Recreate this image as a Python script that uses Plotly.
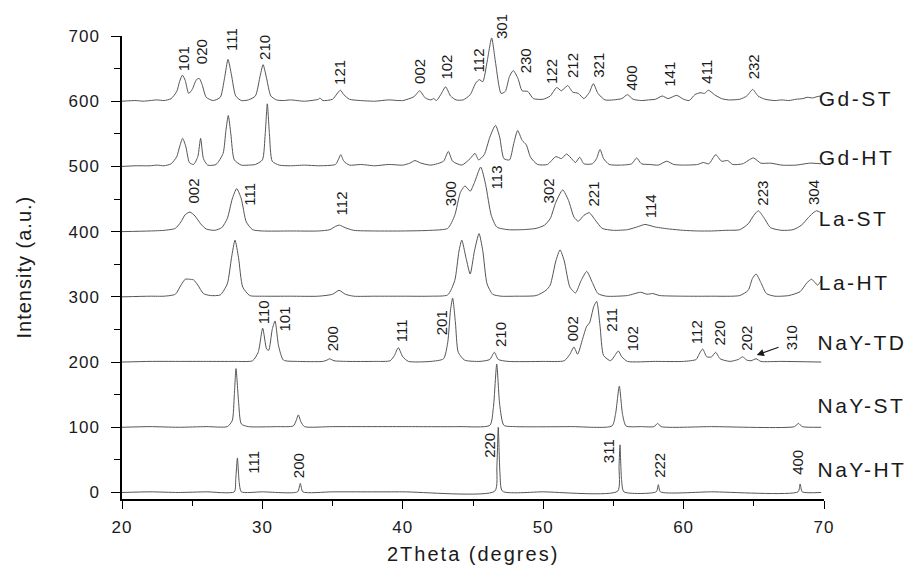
import plotly.graph_objects as go

# ---------------- data (intensity above each pattern's own baseline) ----------------
series_names = ["NaY-HT", "NaY-ST", "NaY-TD", "La-HT", "La-ST", "Gd-HT", "Gd-ST"]
series_offsets = [0, 100, 200, 300, 400, 500, 600]

nay_ht_x = [20, 22, 24, 26, 28.0, 28.1, 28.22, 28.35, 28.5, 30, 32.5, 32.7, 32.88, 35, 40, 46.55, 46.7, 46.8, 46.92, 47.1, 50,
            55.3, 55.4, 55.47, 55.58, 55.75, 58.05, 58.2, 58.35, 62, 68.15, 68.3, 68.45, 69.8]
nay_ht_y = [0, 1, 0, 1, 1, 20, 53, 15, 1, 1, 1, 14, 1, 1, 1, 2, 40, 100, 30, 2, 1,
            2, 40, 73, 20, 1, 1, 12, 1, 1, 1, 13, 1, 0]

nay_st_x = [20, 22, 24, 26, 27.5, 27.85, 28.0, 28.12, 28.3, 28.5, 29, 31, 32.2, 32.4, 32.56, 32.75, 33.0, 35, 40, 44,
            46.2, 46.45, 46.69, 46.9, 47.2, 48, 52, 54.9, 55.15, 55.42, 55.65, 55.9, 57, 57.9, 58.15, 58.4, 62,
            67.9, 68.17, 68.45, 69.8]
nay_st_y = [0, 1, 0, 1, 1, 10, 50, 90, 40, 5, 1, 1, 2, 10, 19, 8, 1, 1, 1, 1,
            3, 30, 97, 35, 3, 1, 1, 2, 20, 63, 20, 2, 1, 1, 6, 1, 1,
            1, 6, 1, 0]

nay_td_x = [20, 22, 24, 26, 28, 29.3, 29.7, 30.02, 30.3, 30.45, 30.7, 30.9, 31.15, 31.5, 32.5, 34.3, 34.6, 34.8, 35.1,
            36, 38, 39.1, 39.4, 39.68, 40.0, 40.4, 42, 42.9, 43.2, 43.4, 43.55, 43.75, 43.95, 44.4, 45.5, 46.2,
            46.52, 46.8, 47.5, 50, 51.5, 51.9, 52.19, 52.45, 52.8, 53.1, 53.3, 53.6, 53.81, 54.05, 54.3, 54.8,
            55.1, 55.35, 55.6, 56.0, 58, 60, 60.9, 61.1, 61.36, 61.65, 62.0, 62.28, 62.6, 63.3, 63.9, 64.2,
            64.5, 64.8, 65.16, 65.5, 67, 69.8]
nay_td_y = [0, 1, 1, 1, 1, 2, 15, 52, 20, 18, 50, 63, 25, 3, 1, 1, 3, 5, 2,
            1, 1, 2, 10, 22, 8, 1, 1, 5, 30, 80, 98, 60, 15, 3, 1, 4,
            15, 4, 1, 1, 2, 12, 23, 12, 35, 55, 60, 85, 93, 55, 10, 2,
            10, 17, 8, 1, 1, 1, 4, 12, 20, 8, 8, 15, 5, 1, 4, 8,
            3, 2, 5, 1, 1, 0]

la_ht_x = [20, 22, 23, 23.8, 24.2, 24.5, 24.8, 25.1, 25.4, 25.8, 26.3, 27.0, 27.5, 27.8, 28.05, 28.3, 28.6, 29.1,
           30, 32, 34, 35.0, 35.46, 35.9, 36.5, 38, 40, 42, 43.2, 43.7, 44.0, 44.2, 44.5, 44.8, 45.1, 45.43,
           45.7, 46.0, 46.4, 47, 48, 49.5, 50.2, 50.5, 50.9, 51.2, 51.5, 51.9, 52.3, 52.7, 53.1, 53.5, 53.9,
           54.5, 56, 56.94, 57.4, 57.8, 58.3, 60, 62, 64, 64.6, 64.9, 65.16, 65.5, 65.9, 66.5, 67.5, 68.3,
           68.8, 69.12, 69.35, 69.55, 69.85]
la_ht_y = [0, 1, 1, 4, 18, 27, 27, 26, 18, 5, 2, 3, 20, 60, 87, 60, 15, 2,
           1, 1, 1, 4, 10, 4, 1, 1, 1, 1, 3, 25, 70, 87, 60, 35, 70, 97,
           70, 20, 4, 1, 1, 2, 10, 18, 55, 72, 55, 15, 6, 25, 39, 22, 5,
           1, 2, 7, 4, 5, 2, 1, 1, 2, 10, 28, 35, 22, 5, 1, 2, 8,
           22, 27, 22, 18, 27]

la_st_x = [20, 22, 23, 23.8, 24.2, 24.5, 24.84, 25.2, 25.6, 26.0, 26.6, 27.1, 27.5, 27.85, 28.17, 28.5, 28.85,
           29.3, 30, 32, 34, 34.8, 35.2, 35.48, 35.9, 36.5, 38, 40, 42, 43.2, 43.7, 44.1, 44.43, 44.8, 45.1,
           45.55, 45.9, 46.3, 46.7, 47.5, 48.5, 49.5, 50.1, 50.5, 50.9, 51.39, 51.8, 52.2, 52.5, 52.9, 53.28,
           53.7, 54.2, 55, 56, 56.8, 57.25, 58, 59, 60, 61, 62, 63, 64, 64.6, 65.0, 65.32, 65.7, 66.2, 67,
           67.8, 68.4, 68.9, 69.3, 69.48, 69.7, 69.9]
la_st_y = [0, 1, 2, 5, 15, 26, 30, 24, 12, 4, 2, 6, 20, 50, 66, 50, 15,
           3, 1, 1, 1, 3, 8, 10, 6, 2, 1, 1, 2, 5, 25, 60, 70, 62, 75,
           99, 72, 25, 7, 3, 3, 5, 10, 20, 45, 64, 48, 22, 16, 25, 29,
           18, 5, 2, 3, 8, 11, 7, 4, 2, 1, 1, 2, 3, 12, 25, 32, 22, 6, 2,
           3, 10, 22, 30, 32, 30, 28]

gd_ht_x = [20, 21, 22, 22.5, 23, 23.5, 23.9, 24.1, 24.32, 24.55, 24.8, 25.1, 25.4, 25.6, 25.8, 26.1, 26.7, 27.2,
           27.4, 27.57, 27.75, 28.0, 28.5, 29.0, 29.5, 30.0, 30.2, 30.35, 30.5, 30.7, 31.2, 32, 33, 34, 35.2,
           35.4, 35.58, 35.8, 36.2, 37, 38, 39, 40, 40.5, 40.87, 41.3, 42, 42.9, 43.24, 43.55, 44.2, 44.8,
           45.14, 45.4, 45.8, 46.2, 46.6, 46.9, 47.2, 47.6, 47.9, 48.18, 48.5, 48.8, 49.1, 49.6, 50.3, 50.9,
           51.3, 51.67, 52.1, 52.3, 52.6, 52.9, 53.5, 53.8, 54.05, 54.3, 54.7, 55.5, 56.3, 56.66, 57.0, 57.6,
           58.2, 58.8, 59.3, 60, 61, 61.4, 61.8, 62.29, 62.7, 63.14, 63.5, 64.2, 64.97, 65.5, 66.2, 67, 68,
           69, 69.8]
gd_ht_y = [0, 1, 1, 2, 1, 4, 15, 30, 43, 30, 6, 3, 15, 43, 12, 2, 3, 20,
           55, 78, 50, 10, 2, 2, 3, 10, 50, 96, 50, 8, 2, 1, 2, 1, 3,
           10, 18, 8, 2, 3, 1, 3, 2, 5, 9, 5, 2, 8, 23, 8, 2, 12,
           20, 10, 18, 45, 63, 45, 12, 10, 35, 55, 40, 33, 14, 3, 3, 15,
           12, 19, 10, 6, 14, 4, 4, 12, 26, 12, 3, 2, 4, 13, 4, 3,
           2, 8, 3, 2, 3, 6, 4, 18, 8, 9, 3, 4, 13, 5, 5, 2, 2,
           5, 4]

gd_st_x = [20, 21, 21.5, 22, 22.5, 23, 23.5, 23.9, 24.1, 24.3, 24.5, 24.75, 25.0, 25.3, 25.5, 25.7, 26.0, 26.5,
           27.0, 27.3, 27.55, 27.8, 28.1, 28.5, 29.0, 29.5, 29.85, 30.05, 30.3, 30.6, 31.0, 31.5, 32, 33, 34,
           34.1, 34.3, 35.0, 35.3, 35.55, 35.8, 36.2, 37, 38, 39, 40, 40.8, 41.2, 41.6, 42.0, 42.2, 42.4, 42.7,
           43.05, 43.4, 43.8, 44.3, 44.8, 45.2, 45.45, 45.7, 46.0, 46.33, 46.6, 47.0, 47.3, 47.6, 47.87, 48.2,
           48.5, 48.9, 49.3, 50, 50.5, 50.96, 51.3, 51.74, 52.1, 52.5, 52.9, 53.3, 53.57, 53.9, 54.4, 55, 55.6,
           56.0, 56.4, 57, 57.5, 58, 58.48, 58.9, 59.5, 60.0, 60.4, 60.8, 61.17, 61.5, 61.76, 62.2, 62.7, 63.2,
           64, 64.5, 64.92, 65.3, 65.8, 66.5, 67, 67.5, 68, 68.5, 68.8, 69.2, 69.5, 69.8]
gd_st_y = [0, 1, 0, 1, 2, 1, 4, 15, 30, 40, 32, 12, 18, 33, 35, 26, 6, 1,
           6, 35, 64, 40, 8, 1, 2, 8, 40, 56, 35, 8, 2, 1, 2, 0, 3,
           5, 1, 3, 11, 17, 10, 3, 1, 0, 2, 1, 7, 16, 5, 2, 4, 1, 10,
           22, 8, 2, 2, 10, 28, 33, 30, 60, 97, 60, 12, 15, 38, 47, 35,
           16, 15, 4, 3, 8, 21, 16, 24, 14, 12, 4, 14, 27, 12, 2, 2, 4,
           10, 3, 1, 2, 3, 8, 4, 9, 3, 1, 10, 13, 12, 17, 10, 4, 2,
           3, 8, 18, 8, 3, 1, 2, 1, 3, 4, 6, 5, 7, 8]

series_x = [nay_ht_x, nay_st_x, nay_td_x, la_ht_x, la_st_x, gd_ht_x, gd_st_x]
series_y = [nay_ht_y, nay_st_y, nay_td_y, la_ht_y, la_st_y, gd_ht_y, gd_st_y]

# hkl reflection labels (2theta, intensity-axis value of label centre)
gd_st_hkl = ["101", "020", "111", "210", "121", "002", "102", "112", "301", "230", "122", "212", "321", "400", "141", "411", "232"]
gd_st_hkl_x = [24.34, 25.68, 27.81, 30.19, 35.53, 41.23, 43.13, 45.36, 47.04, 48.7, 50.6, 52.1, 53.93, 56.3, 59.03, 61.65, 64.94]
gd_st_hkl_y = [665.7, 676.4, 694.8, 681.8, 643.5, 645, 652.7, 662.6, 714.7, 662.6, 645.8, 655, 655, 635.8, 642, 645, 653.4]

la_st_hkl = ["002", "111", "112", "300", "113", "302", "221", "114", "223", "304"]
la_st_hkl_x = [25.08, 29.12, 35.65, 43.36, 46.69, 50.36, 53.57, 57.6, 65.65, 69.24]
la_st_hkl_y = [462, 456.7, 442.9, 459, 482.7, 462, 457.4, 438.8, 459.7, 459.7]

nay_td_hkl = ["110", "101", "200", "111", "201", "210", "002", "211", "102", "112", "220", "202", "310"]
nay_td_hkl_x = [30.06, 31.61, 35.05, 39.92, 42.77, 46.92, 52.14, 54.88, 56.42, 60.93, 62.59, 64.49, 67.7]
nay_td_hkl_y = [276.6, 265.2, 235.4, 248.4, 260.6, 243, 250.7, 264.5, 235.4, 245.3, 245.3, 236.9, 237.7]

nay_ht_hkl = ["111", "200", "220", "311", "222", "400"]
nay_ht_hkl_x = [29.35, 32.56, 46.21, 54.64, 58.32, 68.15]
nay_ht_hkl_y = [46.2, 40.9, 73, 63.9, 40.9, 45.5]

series_label_y = [35, 133, 230, 322, 420, 514, 604]

x_ticks = [20, 30, 40, 50, 60, 70]
y_ticks = [0, 100, 200, 300, 400, 500, 600, 700]

X_RANGE = [20, 70]
Y_RANGE = [-10, 700]

# ---------------- figure ----------------
LINE = "#555555"
TXT = "#1a1a1a"
FONT = "Arial, Liberation Sans, sans-serif"


def px(x):
    return (x - X_RANGE[0]) / (X_RANGE[1] - X_RANGE[0])


def py(y):
    return (y - Y_RANGE[0]) / (Y_RANGE[1] - Y_RANGE[0])


fig = go.Figure()
for xs, ys, off, name in zip(series_x, series_y, series_offsets, series_names):
    fig.add_trace(go.Scatter(
        x=xs, y=[v + off for v in ys], mode="lines", name=name,
        line=dict(color=LINE, width=1, shape="spline", smoothing=0.6),
        showlegend=False, hoverinfo="skip", cliponaxis=False))

ann = []
for texts, xs, ys in [(gd_st_hkl, gd_st_hkl_x, gd_st_hkl_y), (la_st_hkl, la_st_hkl_x, la_st_hkl_y),
                      (nay_td_hkl, nay_td_hkl_x, nay_td_hkl_y), (nay_ht_hkl, nay_ht_hkl_x, nay_ht_hkl_y)]:
    for t, x, y in zip(texts, xs, ys):
        ann.append(dict(x=px(x), y=py(y), xref="paper", yref="paper", text=t, showarrow=False, textangle=-90,
                        xanchor="center", yanchor="middle", font=dict(family=FONT, size=15, color=TXT)))

for name, y in zip(series_names, series_label_y):
    ann.append(dict(x=px(69.95), y=py(y), xref="paper", yref="paper", text=name, showarrow=False,
                    xanchor="left", yanchor="middle", font=dict(family=FONT, size=21, color=TXT)))

# arrow pointing to the 310 reflection
ann.append(dict(x=65.21, y=210.7, xref="x", yref="y", ax=66.87, ay=223.6, axref="x", ayref="y",
                text="", showarrow=True, arrowhead=2, arrowsize=1.2, arrowwidth=1.2, arrowcolor=TXT))

# axis titles
ann.append(dict(x=0.5, y=0, xref="paper", yref="paper", text="2Theta (degres)", showarrow=False,
                xanchor="center", yanchor="middle", yshift=-55, font=dict(family=FONT, size=20, color=TXT)))
ann.append(dict(x=0, y=0.5, xref="paper", yref="paper", text="Intensity (a.u.)", showarrow=False, textangle=-90,
                xanchor="center", yanchor="middle", xshift=-99, font=dict(family=FONT, size=20, color=TXT)))

fig.update_layout(
    width=915, height=573,
    margin=dict(l=122, r=91, t=36, b=74, autoexpand=False),
    paper_bgcolor="white", plot_bgcolor="white",
    annotations=ann,
    font=dict(family=FONT, color=TXT),
)
fig.update_xaxes(
    range=X_RANGE, tickvals=x_ticks, ticks="outside", ticklen=8, tickwidth=1.3, tickcolor="black",
    showline=True, linecolor="black", linewidth=1.5, mirror=False, showgrid=False, zeroline=False,
    tickfont=dict(family=FONT, size=17, color=TXT), automargin=False, ticklabelstandoff=4,
    minor=dict(dtick=5, tick0=20, ticks="outside", ticklen=5, tickwidth=1.2, tickcolor="black"),
)
fig.update_yaxes(
    range=Y_RANGE, tickvals=y_ticks, ticks="outside", ticklen=9, tickwidth=1.3, tickcolor="black",
    showline=True, linecolor="black", linewidth=1.5, mirror=False, showgrid=False, zeroline=False,
    tickfont=dict(family=FONT, size=17, color=TXT), automargin=False, ticklabelstandoff=8,
    minor=dict(dtick=50, tick0=0, ticks="outside", ticklen=6, tickwidth=1.2, tickcolor="black"),
)

# page reset (no default body margin) and the widened letter spacing used by the reference typesetting
post_js = """
document.body.style.margin = '0';
document.body.style.overflow = 'hidden';
var gd = document.getElementsByClassName('plotly-graph-div')[0];
function spacing(){
  var names = %s;
  document.querySelectorAll('.annotation-text').forEach(function(t){
    var s = t.textContent;
    if (names.indexOf(s) >= 0) { t.style.letterSpacing = '2.5px'; }
    else if (s === '2Theta (degres)') { t.style.letterSpacing = '2px'; }
    else if (s === 'Intensity (a.u.)') { t.style.letterSpacing = '1px'; }
  });
  document.querySelectorAll('.xtick text, .ytick text').forEach(function(t){ t.style.letterSpacing = '1px'; });
}
spacing();
gd.on('plotly_afterplot', spacing);
""" % str(series_names).replace("'", '"')

fig.write_html("out.html", post_script=post_js, config={"displayModeBar": False})
